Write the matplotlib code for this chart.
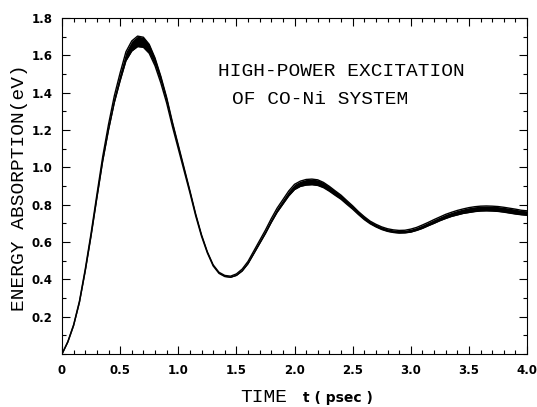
import matplotlib
matplotlib.use("Agg")
import matplotlib.pyplot as plt
from matplotlib.ticker import MultipleLocator

# time axis (psec)
time_ps = [
    0.00, 0.05, 0.10, 0.15, 0.20, 0.25, 0.30, 0.35, 0.40, 0.45,
    0.50, 0.55, 0.60, 0.65, 0.70, 0.75, 0.80, 0.85, 0.90, 0.95,
    1.00, 1.05, 1.10, 1.15, 1.20, 1.25, 1.30, 1.35, 1.40, 1.45,
    1.50, 1.55, 1.60, 1.65, 1.70, 1.75, 1.80, 1.85, 1.90, 1.95,
    2.00, 2.05, 2.10, 2.15, 2.20, 2.25, 2.30, 2.35, 2.40, 2.45,
    2.50, 2.55, 2.60, 2.65, 2.70, 2.75, 2.80, 2.85, 2.90, 2.95,
    3.00, 3.05, 3.10, 3.15, 3.20, 3.25, 3.30, 3.35, 3.40, 3.45,
    3.50, 3.55, 3.60, 3.65, 3.70, 3.75, 3.80, 3.85, 3.90, 3.95,
    4.00,
]

# centre of the absorbed energy band (eV)
energy_mid = [
    0.000, 0.065, 0.155, 0.280, 0.450, 0.640, 0.845, 1.045, 1.215, 1.365,
    1.485, 1.595, 1.650, 1.675, 1.670, 1.635, 1.565, 1.470, 1.360, 1.230,
    1.110, 0.990, 0.870, 0.745, 0.635, 0.545, 0.475, 0.435, 0.418, 0.414,
    0.425, 0.450, 0.490, 0.545, 0.600, 0.655, 0.715, 0.770, 0.815, 0.860,
    0.895, 0.912, 0.920, 0.922, 0.918, 0.905, 0.885, 0.862, 0.840, 0.812,
    0.785, 0.755, 0.728, 0.705, 0.688, 0.674, 0.664, 0.658, 0.655, 0.656,
    0.661, 0.670, 0.682, 0.696, 0.710, 0.724, 0.737, 0.748, 0.757, 0.765,
    0.771, 0.776, 0.779, 0.780, 0.779, 0.777, 0.773, 0.768, 0.763, 0.758,
    0.755,
]

# half width of the band (eV)
energy_half = [
    0.000, 0.001, 0.002, 0.003, 0.005, 0.007, 0.009, 0.012, 0.015, 0.018,
    0.021, 0.024, 0.027, 0.028, 0.027, 0.024, 0.021, 0.018, 0.015, 0.012,
    0.010, 0.008, 0.006, 0.005, 0.004, 0.003, 0.003, 0.003, 0.003, 0.003,
    0.004, 0.005, 0.006, 0.007, 0.008, 0.009, 0.010, 0.011, 0.012, 0.013,
    0.014, 0.014, 0.015, 0.015, 0.015, 0.014, 0.013, 0.012, 0.011, 0.010,
    0.009, 0.008, 0.008, 0.007, 0.007, 0.007, 0.007, 0.007, 0.007, 0.007,
    0.008, 0.008, 0.009, 0.009, 0.010, 0.010, 0.011, 0.011, 0.012, 0.012,
    0.013, 0.013, 0.013, 0.013, 0.013, 0.013, 0.013, 0.013, 0.013, 0.012,
    0.012,
]

x_ticks = [0, 0.5, 1.0, 1.5, 2.0, 2.5, 3.0, 3.5, 4.0]
x_tick_labels = ["0", "0.5", "1.0", "1.5", "2.0", "2.5", "3.0", "3.5", "4.0"]
y_ticks = [0.2, 0.4, 0.6, 0.8, 1.0, 1.2, 1.4, 1.6, 1.8]
y_tick_labels = ["0.2", "0.4", "0.6", "0.8", "1.0", "1.2", "1.4", "1.6", "1.8"]

upper = [m + h for m, h in zip(energy_mid, energy_half)]
lower = [m - h for m, h in zip(energy_mid, energy_half)]

fig = plt.figure(figsize=(5.37, 4.07), dpi=100)
ax = fig.add_axes([62 / 537, 53 / 407, 465 / 537, 336 / 407])

ax.fill_between(time_ps, lower, upper, color="black", linewidth=0)
ax.plot(time_ps, upper, color="black", linewidth=1.0)
ax.plot(time_ps, lower, color="black", linewidth=1.0)

ax.set_xlim(0, 4.0)
ax.set_ylim(0, 1.8)

ax.set_xticks(x_ticks)
ax.set_xticklabels(x_tick_labels)
ax.set_yticks(y_ticks)
ax.set_yticklabels(y_tick_labels)
ax.xaxis.set_minor_locator(MultipleLocator(0.1))
ax.yaxis.set_minor_locator(MultipleLocator(0.1))

ax.tick_params(which="both", direction="in", top=True, right=True, color="black", width=0.8)
ax.tick_params(which="major", length=6, pad=7, labelsize=8.5)
ax.tick_params(which="minor", length=3)
for lab in ax.get_xticklabels() + ax.get_yticklabels():
    lab.set_fontweight("bold")

for side in ["left", "right", "top", "bottom"]:
    ax.spines[side].set_linewidth(0.8)

mono = "Liberation Mono"
ax.text(218 / 537, 1 - 72 / 407, "HIGH-POWER EXCITATION", transform=fig.transFigure,
        fontsize=14, family=mono, va="center", ha="left")
ax.text(232 / 537, 1 - 100 / 407, "OF CO-Ni SYSTEM", transform=fig.transFigure,
        fontsize=14, family=mono, va="center", ha="left")

fig.text(20 / 537, 1 - 188 / 407, "ENERGY ABSORPTION(eV)", rotation=90,
         fontsize=14, family=mono, va="center", ha="center")
fig.text(240 / 537, 1 - 398 / 407, "TIME", fontsize=14, family=mono,
         va="center", ha="left")
fig.text(303 / 537, 1 - 398 / 407, "t ( psec )", fontsize=10, family="DejaVu Sans",
         fontweight="bold", va="center", ha="left")

fig.savefig("out.png", dpi=100)
